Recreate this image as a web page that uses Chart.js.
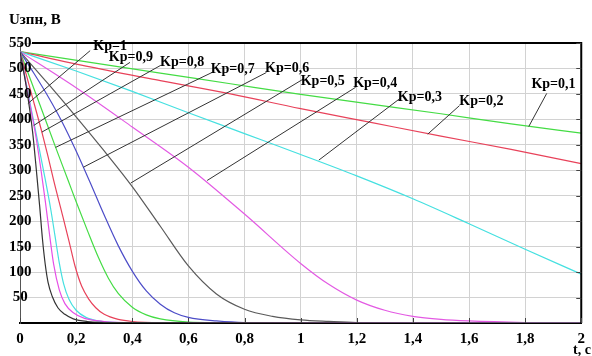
<!DOCTYPE html>
<html>
<head>
<meta charset="utf-8">
<script src="https://cdn.jsdelivr.net/npm/chart.js@4.4.0/dist/chart.umd.min.js"></script>
<style>
html,body{margin:0;padding:0;background:#fff;}
#wrap{width:592px;height:356px;position:relative;}
</style>
</head>
<body>
<div id="wrap"><canvas id="c" width="592" height="356"></canvas></div>
<script>
// ---- data (t in s, U in V) ----
const kpBlack = [[0,533],[0.025,455],[0.045,375],[0.06,290],[0.07,230],[0.08,165],[0.09,115],[0.1,80],[0.115,52],[0.135,30],[0.16,17],[0.19,8],[0.24,3],[0.35,1],[2,0]];
const kp1 = [[0,533],[0.03,445],[0.055,372],[0.075,300],[0.09,240],[0.105,175],[0.12,115],[0.14,65],[0.16,38],[0.19,20],[0.23,9],[0.3,3],[0.4,1],[2,0]];
const kp09 = [[0,533],[0.049,395],[0.07,338],[0.09,282],[0.11,222],[0.125,170],[0.14,118],[0.155,78],[0.175,46],[0.2,25],[0.235,11],[0.28,4],[0.35,1],[2,0]];
const kp08 = [[0,533],[0.04,452],[0.078,375],[0.1,327],[0.12,280],[0.15,215],[0.175,160],[0.196,112],[0.22,72],[0.245,47],[0.27,30],[0.3,17],[0.35,7],[0.4,3],[0.5,1],[2,0]];
const kp07 = [[0,533],[0.06,445],[0.127,345],[0.173,278],[0.196,244],[0.24,182],[0.28,128],[0.315,88],[0.35,58],[0.4,31],[0.45,16],[0.5,8],[0.6,2],[0.7,1],[2,0]];
const kp06 = [[0,533],[0.05,490],[0.1,445],[0.15,395],[0.2,338],[0.25,276],[0.3,212],[0.35,152],[0.4,102],[0.45,63],[0.5,37],[0.55,20],[0.6,11],[0.7,4],[0.8,1],[2,0]];
const kp05 = [[0,533],[0.1,470],[0.2,405],[0.3,338],[0.4,268],[0.5,190],[0.6,112],[0.7,57],[0.8,27],[0.9,13],[1.0,6],[1.1,3],[1.2,1],[2,0]];
const kp04 = [[0,533],[0.2,462],[0.4,385],[0.6,306],[0.8,214],[1.0,117],[1.1,76],[1.2,45],[1.3,25],[1.4,13],[1.5,7],[1.6,4],[1.8,1],[2,0]];
const kp03 = [[0,533],[0.2,495],[0.4,455],[0.6,413],[0.8,372],[1.0,331],[1.2,289],[1.4,244],[1.6,195],[1.8,145],[2.0,96]];
const kp02 = [[0,533],[0.25,503],[0.5,476],[0.75,450],[1.0,421],[1.25,394],[1.5,367],[1.75,341],[2.0,313]];
const kp01 = [[0,533],[0.25,512],[0.5,491],[0.75,470],[1.0,449],[1.25,430],[1.5,411],[1.75,391],[2.0,373]];

const xTicks = [0,0.2,0.4,0.6,0.8,1,1.2,1.4,1.6,1.8,2];
const yTicks = [50,100,150,200,250,300,350,400,450,500,550];

// annotation texts with anchors in data coordinates (text centre, pointer start, pointer end)
const kpNames = ['Kp=1','Kp=0,9','Kp=0,8','Kp=0,7','Kp=0,6','Kp=0,5','Kp=0,4','Kp=0,3','Kp=0,2','Kp=0,1'];
const textAt  = [[0.321,543],[0.395,522],[0.578,512],[0.758,498],[0.952,500],[1.079,475],[1.266,471],[1.425,443],[1.644,435],[1.901,469]];
const lineFrom= [[0.25,535],[0.392,512],[0.501,506],[0.684,492],[0.878,492],[1.012,480],[1.196,463],[1.354,441],[1.566,427],[1.877,451]];
const lineTo  = [[0.028,431],[0.049,388],[0.078,375],[0.127,345],[0.226,306],[0.395,275],[0.667,280],[1.065,320],[1.453,371],[1.813,386]];

const SERIF = '"Liberation Serif", "DejaVu Serif", serif';

function toXY(arr){ return arr.map(p => ({x:p[0], y:p[1]})); }
function ds(arr,color){
  return {data:toXY(arr), borderColor:color, borderWidth:1.2, pointRadius:0, fill:false,
          tension:0.4, cubicInterpolationMode:'monotone'};
}

const overlay = {
  id:'overlay',
  afterDatasetsDraw(chart){
    const ctx = chart.ctx, xs = chart.scales.x, ys = chart.scales.y, a = chart.chartArea;
    ctx.save();
    ctx.strokeStyle = '#000'; ctx.lineWidth = 2;
    ctx.beginPath();
    ctx.moveTo(a.left + 12, a.top); ctx.lineTo(a.right, a.top); ctx.lineTo(a.right, a.bottom);
    ctx.stroke();
    ctx.strokeStyle = '#444'; ctx.lineWidth = 1;
    ctx.beginPath();
    yTicks.forEach(v => { const y = Math.round(ys.getPixelForValue(v))+0.5; ctx.moveTo(a.right, y); ctx.lineTo(a.right-5, y); });
    xTicks.forEach(v => { const x = Math.round(xs.getPixelForValue(v))+0.5; ctx.moveTo(x, a.bottom); ctx.lineTo(x, a.bottom-5); });
    ctx.stroke();
    ctx.strokeStyle = '#333'; ctx.lineWidth = 1;
    ctx.beginPath();
    for (let i=0;i<kpNames.length;i++){
      ctx.moveTo(xs.getPixelForValue(lineFrom[i][0]), ys.getPixelForValue(lineFrom[i][1]));
      ctx.lineTo(xs.getPixelForValue(lineTo[i][0]), ys.getPixelForValue(lineTo[i][1]));
    }
    ctx.stroke();
    ctx.fillStyle = '#000';
    ctx.font = 'bold 14px ' + SERIF;
    ctx.textAlign = 'center'; ctx.textBaseline = 'middle';
    for (let i=0;i<kpNames.length;i++){
      ctx.fillText(kpNames[i], xs.getPixelForValue(textAt[i][0]), ys.getPixelForValue(textAt[i][1]));
    }
    ctx.font = 'bold 15px ' + SERIF;
    ctx.textAlign = 'left';
    ctx.fillText('Uзпн, В', 9, 20);
    ctx.font = 'bold 14px ' + SERIF;
    ctx.textAlign = 'right';
    ctx.fillText('t, c', 591, 350);
    ctx.restore();
  }
};

new Chart(document.getElementById('c'), {
  type:'line',
  data:{ datasets:[
    ds(kpBlack,'#333333'),
    ds(kp1,'#e64fe6'),
    ds(kp09,'#45e0e0'),
    ds(kp08,'#e8425a'),
    ds(kp07,'#44dc44'),
    ds(kp06,'#4d4dc8'),
    ds(kp05,'#5a5a5a'),
    ds(kp04,'#e35ae3'),
    ds(kp03,'#45e0e0'),
    ds(kp02,'#e8425a'),
    ds(kp01,'#44dc44')
  ]},
  options:{
    responsive:false, animation:false, devicePixelRatio:1,
    layout:{padding:{left:0,right:3,top:43,bottom:0}},
    plugins:{legend:{display:false}, tooltip:{enabled:false}},
    scales:{
      x:{type:'linear', min:0, max:2,
         afterBuildTicks(s){ s.ticks = xTicks.map(v=>({value:v})); },
         afterFit(s){ s.height = 33; },
         grid:{color:'#d2d2d2', lineWidth:1, drawTicks:false},
         border:{color:'#000', width:2},
         ticks:{padding:7, color:'#000', maxRotation:0, autoSkip:false,
                font:{family:SERIF, size:15, weight:'bold'},
                callback(v){ return String(Math.round(v*10)/10).replace('.',','); }}
      },
      y:{type:'linear', min:0, max:550,
         afterBuildTicks(s){ s.ticks = [0].concat(yTicks).map(v=>({value:v})); },
         afterFit(s){ s.width = 20; },
         grid:{color:'#d2d2d2', lineWidth:1, drawTicks:false},
         border:{color:'#555', width:1},
         ticks:{mirror:true, crossAlign:'center', padding:-11, color:'#000', autoSkip:false, z:1,
                font:{family:SERIF, size:15, weight:'bold'},
                callback(v){ return v===0 ? '' : String(v); }}
      }
    }
  },
  plugins:[overlay]
});
</script>
</body>
</html>
